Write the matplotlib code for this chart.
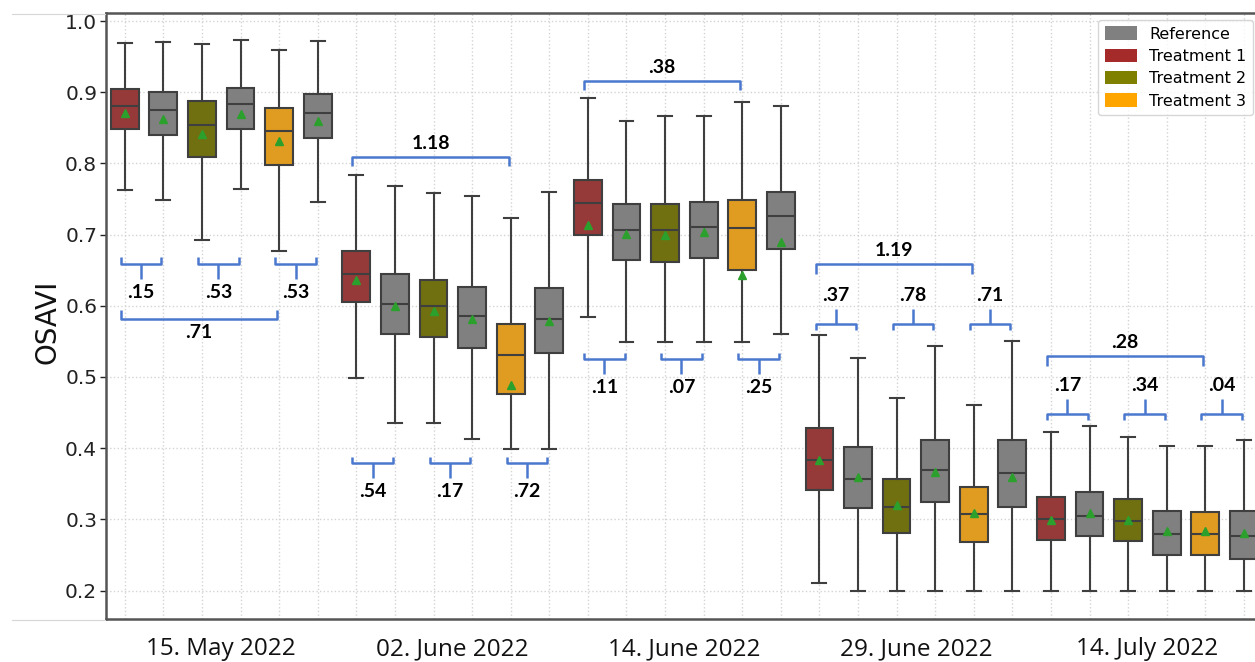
import colorsys

import matplotlib
matplotlib.use("Agg")
import matplotlib.pyplot as plt
from matplotlib.colors import to_rgb
from matplotlib.lines import Line2D
from matplotlib.patches import Patch

# ---------------------------------------------------------------- data
dates = ["15. May 2022", "02. June 2022", "14. June 2022", "29. June 2022", "14. July 2022"]
box_order = ["Treatment 1", "Reference", "Treatment 2", "Reference", "Treatment 3", "Reference"]
legend_order = ["Reference", "Treatment 1", "Treatment 2", "Treatment 3"]

# box statistics per acquisition date (6 boxes each, in box_order)
whishi = [
    [0.969, 0.970, 0.968, 0.973, 0.960, 0.972],
    [0.784, 0.768, 0.758, 0.754, 0.724, 0.760],
    [0.892, 0.860, 0.866, 0.867, 0.886, 0.881],
    [0.559, 0.527, 0.470, 0.543, 0.461, 0.550],
    [0.422, 0.431, 0.416, 0.403, 0.403, 0.412],
]
q3 = [
    [0.905, 0.900, 0.887, 0.906, 0.878, 0.898],
    [0.677, 0.644, 0.636, 0.627, 0.575, 0.625],
    [0.777, 0.743, 0.743, 0.746, 0.749, 0.760],
    [0.428, 0.401, 0.356, 0.412, 0.346, 0.411],
    [0.332, 0.339, 0.328, 0.312, 0.311, 0.312],
]
medians = [
    [0.881, 0.875, 0.854, 0.884, 0.846, 0.871],
    [0.644, 0.603, 0.600, 0.586, 0.531, 0.581],
    [0.745, 0.707, 0.707, 0.711, 0.709, 0.726],
    [0.384, 0.357, 0.318, 0.369, 0.307, 0.365],
    [0.301, 0.305, 0.297, 0.279, 0.279, 0.276],
]
q1 = [
    [0.848, 0.840, 0.809, 0.849, 0.798, 0.836],
    [0.605, 0.561, 0.556, 0.540, 0.476, 0.534],
    [0.700, 0.665, 0.662, 0.667, 0.650, 0.680],
    [0.341, 0.316, 0.281, 0.324, 0.268, 0.317],
    [0.271, 0.276, 0.269, 0.250, 0.250, 0.244],
]
whislo = [
    [0.763, 0.748, 0.693, 0.764, 0.677, 0.746],
    [0.498, 0.436, 0.436, 0.413, 0.399, 0.399],
    [0.584, 0.549, 0.549, 0.549, 0.549, 0.560],
    [0.211, 0.200, 0.200, 0.200, 0.200, 0.200],
    [0.200, 0.200, 0.200, 0.200, 0.200, 0.200],
]
means = [
    [0.871, 0.863, 0.841, 0.869, 0.831, 0.860],
    [0.636, 0.600, 0.593, 0.581, 0.489, 0.579],
    [0.713, 0.701, 0.699, 0.703, 0.643, 0.690],
    [0.384, 0.359, 0.320, 0.367, 0.309, 0.360],
    [0.299, 0.309, 0.299, 0.283, 0.283, 0.281],
]

# p-values: treatment vs. neighbouring reference, and treatment 1 vs. treatment 3
pair_pvalues = [
    [".15", ".53", ".53"],
    [".54", ".17", ".72"],
    [".11", ".07", ".25"],
    [".37", ".78", ".71"],
    [".17", ".34", ".04"],
]
span_pvalues = [".71", "1.18", ".38", "1.19", ".28"]

# ---------------------------------------------------------------- style
palette = {"Reference": "gray", "Treatment 1": "brown",
           "Treatment 2": "olive", "Treatment 3": "orange"}
EDGE = "#3f3f3f"
BRACKET = "#4a78cf"

# bracket levels per date: (line y, side) ; side -1 = label below, +1 = above
pair_levels = [(0.659, -1), (0.379, -1), (0.525, -1), (0.575, 1), (0.448, 1)]
span_levels = [(0.581, -1), (0.809, 1), (0.916, 1), (0.658, 1), (0.529, 1)]


def desaturate(color, prop=0.75):
    h, l, s = colorsys.rgb_to_hls(*to_rgb(color))
    return colorsys.hls_to_rgb(h, l, s * prop)


W, H = 1255, 662
fig = plt.figure(figsize=(W / 100, H / 100), dpi=100)
ax_left, ax_top, ax_bottom = 105.5, 12.5, 619.0
unit = 38.59
n_boxes = len(dates) * len(box_order)
ax = fig.add_axes([ax_left / W, 1 - ax_bottom / H,
                   n_boxes * unit / W, (ax_bottom - ax_top) / H])

stats, colors, positions = [], [], []
for g in range(len(dates)):
    for k, name in enumerate(box_order):
        stats.append(dict(whislo=whislo[g][k], q1=q1[g][k], med=medians[g][k],
                          q3=q3[g][k], whishi=whishi[g][k], mean=means[g][k],
                          fliers=[]))
        colors.append(desaturate(palette[name]))
        positions.append(g * len(box_order) + k)

bp = ax.bxp(stats, positions=positions, widths=0.72, patch_artist=True,
            showmeans=True, showfliers=False,
            boxprops=dict(edgecolor=EDGE, linewidth=1.5),
            whiskerprops=dict(color=EDGE, linewidth=1.5),
            capprops=dict(color=EDGE, linewidth=1.5),
            medianprops=dict(color=EDGE, linewidth=1.5),
            meanprops=dict(marker="^", markerfacecolor="#2ca02c",
                           markeredgecolor="#2ca02c", markersize=6),
            zorder=3)
for patch, c in zip(bp["boxes"], colors):
    patch.set_facecolor(c)


def bracket(x1, x2, y, side, tick, stem, label, label_off):
    ax.plot([x1, x1, x2, x2], [y - side * tick, y, y, y - side * tick],
            color=BRACKET, lw=1.8, solid_capstyle="butt", zorder=4)
    xm = (x1 + x2) / 2
    if stem:
        ax.plot([xm, xm], [y, y + side * stem], color=BRACKET, lw=1.8,
                solid_capstyle="butt", zorder=4)
    ax.text(xm, y + side * (stem + label_off), label, ha="center", va="center",
            fontsize=14, fontweight="bold", family="Lato", color="black",
            zorder=5)


for g in range(len(dates)):
    base = g * len(box_order)
    y, side = pair_levels[g]
    for j, lab in enumerate(pair_pvalues[g]):
        p = base + 2 * j
        bracket(p - 0.1, p + 1 - 0.05, y, side, 0.009, 0.021, lab, 0.019)
    y, side = span_levels[g]
    bracket(base - 0.1, base + 4 - 0.05, y, side, 0.013, 0.0, span_pvalues[g], 0.019)

# axes, ticks, grid
ax.set_xlim(-0.5, n_boxes - 0.5)
ax.set_ylim(0.160, 1.012)
ax.set_yticks([0.2, 0.3, 0.4, 0.5, 0.6, 0.7, 0.8, 0.9, 1.0])
ax.set_yticklabels([f"{v:.1f}" for v in ax.get_yticks()])
ax.tick_params(axis="y", labelsize=14.5, length=4, width=1, colors="#222222", pad=2)

centers = [g * len(box_order) + (len(box_order) - 1) / 2 for g in range(len(dates))]
ax.set_xticks(centers)
ax.set_xticklabels(dates, family="Open Sans", fontsize=17.5, color="#111111")
ax.set_xticks(positions, minor=True)
ax.tick_params(axis="x", which="both", length=0, pad=13)

ax.grid(False)
ax.grid(True, axis="x", which="minor", color="#d4d4d4", linestyle=":", linewidth=1.0)
ax.grid(True, axis="y", which="major", color="#d4d4d4", linestyle=":", linewidth=1.0)
ax.set_axisbelow(True)

for sp in ax.spines.values():
    sp.set_color("#555555")
    sp.set_linewidth(1.8)

ax.set_ylabel("OSAVI", fontsize=20, color="#111111")
ax.yaxis.set_label_coords(-0.038, 0.49)

handles = [Patch(facecolor=palette[n], edgecolor="none", label=n) for n in legend_order]
fig.legend(handles=handles, loc="upper right", bbox_to_anchor=(1253 / W, 1 - 20 / H),
           borderaxespad=0, fontsize=11.5, handlelength=2.0, handleheight=0.9,
           borderpad=0.4, labelspacing=0.45, framealpha=0.8, edgecolor="#cccccc")

# thin rules to the left of the plot frame
for yy in (14, 620):
    fig.add_artist(Line2D([12 / W, 105 / W], [1 - yy / H, 1 - yy / H],
                          color="#d6d6d6", linewidth=0.8))

fig.savefig("out.png", dpi=100)
